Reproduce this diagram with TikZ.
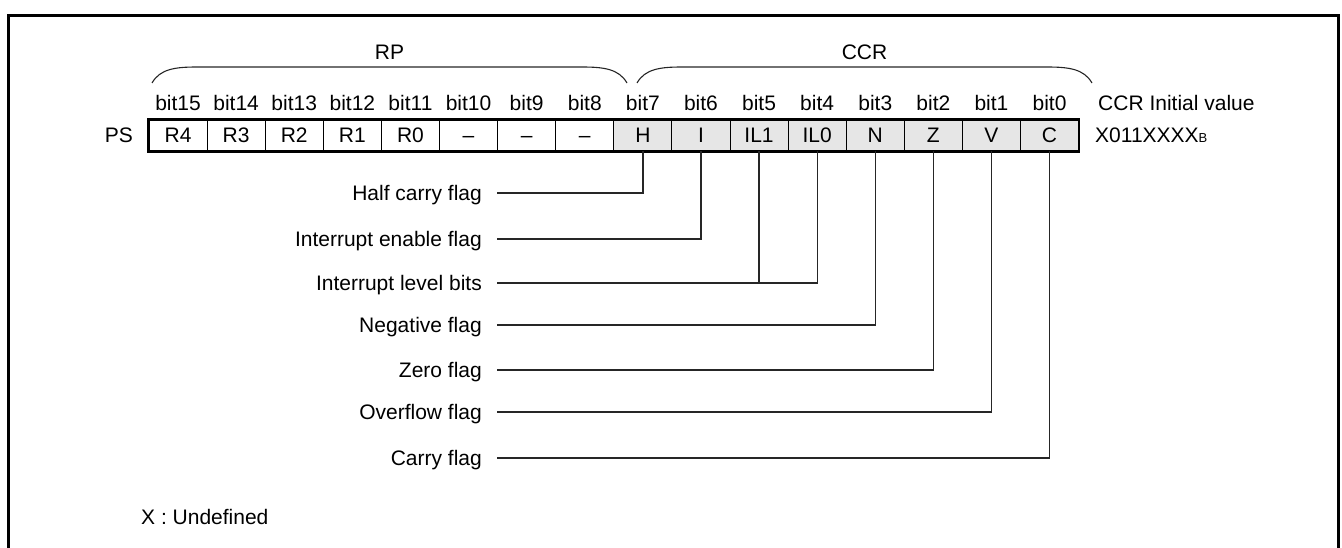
\documentclass[tikz,border=0pt]{standalone}
\usepackage{fontspec}
\setmainfont{Liberation Sans}
\definecolor{cellgrey}{HTML}{E6E6E6}
\begin{document}
\begin{tikzpicture}[x=1pt,y=-1pt,
  txt/.style={font=\fontsize{21}{25}\selectfont, inner sep=0pt, text height=15pt, text depth=0pt},
  cellbox/.style={txt, draw=black, line width=1pt, minimum width=58.1pt, minimum height=31pt},
  graycell/.style={cellbox, fill=cellgrey},
  wire/.style={line width=1.3pt, draw=black!85},
  bracestyle/.style={line width=1.1pt, draw=black!85},
  frame/.style={line width=3pt}]
\useasboundingbox (0,0) rectangle (1342,548);
% frame (bottom edge falls outside the picture)
\draw[frame] (8,570) -- (8,16) -- (1338,16) -- (1338,570);

% group labels and braces
\node[txt] (rp) at (389.5,52) {RP};
\node[txt] (ccr) at (864.5,52) {CCR};
\draw[bracestyle] (152,83) .. controls (160,69) and (175,67) .. (197,67) -- (582,67) .. controls (604,67) and (619,69) .. (627,83);
\draw[bracestyle] (637,83) .. controls (645,69) and (660,67) .. (682,67) -- (1047,67) .. controls (1069,67) and (1084,69) .. (1092,83);

% register cells
\foreach \k/\lab/\nm in {15/R4/c15,14/R3/c14,13/R2/c13,12/R1/c12,11/R0/c11,10/--/c10,9/--/c9,8/--/c8}{
  \node[cellbox] (\nm) at ({149+58.1*(15-\k+0.5)},135.5) {\lab};
  \node[txt] (b\k) at ({149+58.1*(15-\k+0.5)},103.5) {bit\k};
}
\foreach \k/\lab/\nm in {7/H/cH,6/I/cI,5/IL1/cIL1,4/IL0/cIL0,3/N/cN,2/Z/cZ,1/V/cV,0/C/cC}{
  \node[graycell] (\nm) at ({149+58.1*(15-\k+0.5)},135.5) {\lab};
  \node[txt] (b\k) at ({149+58.1*(15-\k+0.5)},103.5) {bit\k};
}
\draw[line width=2.6pt] (c15.north west) rectangle (cC.south east);

\node[txt, anchor=east] (ps) at (133,135.5) {PS};
\node[txt, anchor=west] (civ) at (1098,103.5) {CCR Initial value};
\node[txt, anchor=west] (init) at (1095,135.5) {X011XXXX{\fontsize{13}{15}\selectfont B}};

% flag labels
\node[txt, anchor=east] (fH) at (482,193) {Half carry flag};
\node[txt, anchor=east] (fI) at (482,239) {Interrupt enable flag};
\node[txt, anchor=east] (fIL) at (482,283) {Interrupt level bits};
\node[txt, anchor=east] (fN) at (482,325) {Negative flag};
\node[txt, anchor=east] (fZ) at (482,370) {Zero flag};
\node[txt, anchor=east] (fV) at (482,412) {Overflow flag};
\node[txt, anchor=east] (fC) at (482,458) {Carry flag};

\coordinate (sH) at (497,193);
\coordinate (sI) at (497,239);
\coordinate (sIL) at (497,283);
\coordinate (sN) at (497,325);
\coordinate (sZ) at (497,370);
\coordinate (sV) at (497,412);
\coordinate (sC) at (497,458);

\draw[wire] (sH) -| (cH.south);
\draw[wire] (sI) -| (cI.south);
\draw[wire] (sIL) -| (cIL0.south);
\draw[wire] (cIL1.south) -- (cIL1.south |- sIL);
\draw[wire] (sN) -| (cN.south);
\draw[wire] (sZ) -| (cZ.south);
\draw[wire] (sV) -| (cV.south);
\draw[wire] (sC) -| (cC.south);

\node[txt, anchor=west] (undef) at (141,517) {X : Undefined};
\end{tikzpicture}
\end{document}
